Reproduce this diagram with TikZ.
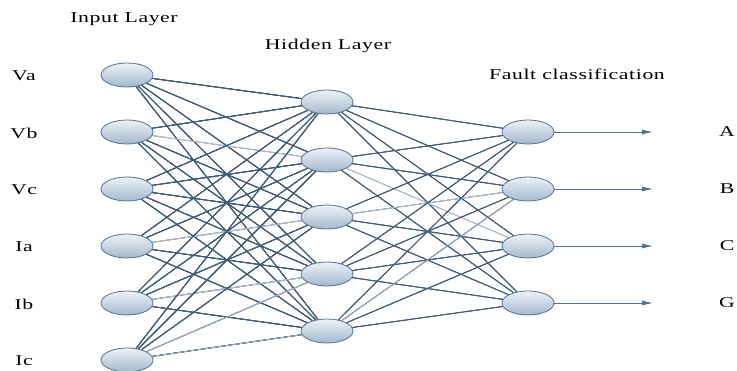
\documentclass[tikz,border=0pt]{standalone}
\usepackage{fontspec}
\setmainfont{Liberation Serif}[FakeStretch=1.45, LetterSpace=4]
\usepackage{xcolor}
\usetikzlibrary{arrows.meta, positioning, calc, shapes.geometric, backgrounds}
\definecolor{nodetop}{HTML}{EEF2F7}
\definecolor{nodebot}{HTML}{A3B8CE}
\definecolor{nodeedge}{HTML}{52708F}
\definecolor{wire}{HTML}{405C79}
\definecolor{wirelight}{HTML}{A9B8C8}

\begin{document}
\begin{tikzpicture}[
  x=1pt, y=-1pt,
  neuron/.style={ellipse, draw=nodeedge, line width=0.8pt, top color=nodetop, bottom color=nodebot,
                 minimum width=52pt, minimum height=24pt, inner sep=0pt},
  lbl/.style={font=\fontsize{15}{17}\selectfont},
  wt/.style={draw=wire, line width=0.8pt},
  wtl/.style={draw=wirelight, line width=0.7pt},
  outarr/.style={-{Latex[length=11pt,width=5pt]}, draw=nodeedge, line width=0.8pt},
  >=Latex
]
  \useasboundingbox (0,0) rectangle (737,371);

  % Layer titles
  \node[lbl] (tin) at (124, 19) {Input Layer};
  \node[lbl] (thid) at (328, 46) {Hidden Layer};
  \node[lbl] (tout) at (577, 74) {Fault classification};

  % Input layer
  \foreach \name/\y [count=\i] in {Va/75, Vb/132, Vc/189, Ia/246, Ib/303, Ic/360} {
    \node[neuron] (in\i) at (127, \y) {};
    \node[lbl] (lin\i) at (24, \y+1) {\name};
  }

  % Hidden layer
  \foreach \y [count=\j] in {102, 160, 217, 274, 331}
    \node[neuron] (hid\j) at (327, \y) {};

  % Output layer
  \foreach \name/\y [count=\k] in {A/132, B/189, C/246, G/303} {
    \node[neuron] (out\k) at (528, \y) {};
    \coordinate (end\k) at (653, \y);
    \node[lbl] (lout\k) at (727, \y) {\name};
  }

  \begin{pgfonlayer}{background}
  % Input -> hidden weights
  \foreach \i in {1,...,6}
    \foreach \j in {1,...,5} {
      \def\wsty{wt}
      \foreach \a/\b in {2/2, 4/3, 5/4, 6/4, 6/5}
        \ifnum\i=\a \ifnum\j=\b \global\def\wsty{wtl}\fi\fi
      \draw[\wsty] (in\i) -- (hid\j);
      \global\def\wsty{wt}
    }
  % Hidden -> output weights
  \foreach \j in {1,...,5}
    \foreach \k in {1,...,4} {
      \def\wsty{wt}
      \foreach \a/\b in {2/3, 3/2, 5/2}
        \ifnum\j=\a \ifnum\k=\b \global\def\wsty{wtl}\fi\fi
      \draw[\wsty] (hid\j) -- (out\k);
      \global\def\wsty{wt}
    }
  \end{pgfonlayer}

  % Outputs
  \foreach \k in {1,...,4}
    \draw[outarr] (out\k) -- (end\k);
\end{tikzpicture}
\end{document}
